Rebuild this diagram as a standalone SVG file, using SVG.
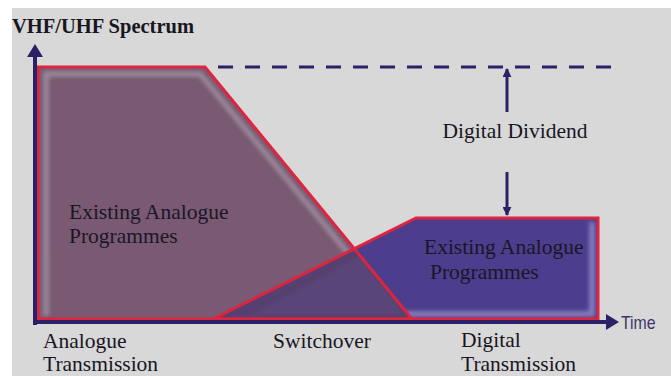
<svg xmlns="http://www.w3.org/2000/svg" width="671" height="376" viewBox="0 0 671 376">
  <defs>
    <style>
      .lbl { font-family: "Liberation Serif", "Times New Roman", serif; font-size: 21.5px; fill: #18161e; }
      .inner { font-family: "Liberation Serif", "Times New Roman", serif; font-size: 21.5px; fill: #1a1628; }
      .axis { stroke: #2b2166; stroke-width: 4; fill: none; }
      .edge { stroke: #dd2540; stroke-width: 3; fill: none; stroke-linejoin: miter; }
      .dd { stroke: #2b2166; stroke-width: 3; fill: none; }
    </style>
    <filter id="soft" x="-10%" y="-10%" width="120%" height="120%">
      <feGaussianBlur stdDeviation="2.2"/>
    </filter>
    <clipPath id="clipAnalogue">
      <polygon points="38,67 205,67 412,319 38,319"/>
    </clipPath>
    <clipPath id="clipDigital">
      <polygon points="213,319 416,218 598,218 598,319"/>
    </clipPath>
    <marker id="headSmall" viewBox="0 0 10 10" refX="9" refY="5" markerWidth="3" markerHeight="3" orient="auto">
      <path d="M0,0 L10,5 L0,10 Z" fill="#2b2166"/>
    </marker>
  </defs>

  <!-- page -->
  <rect x="0" y="0" width="671" height="376" fill="#ffffff"/>
  <rect x="12" y="8" width="659" height="368" fill="#d8d8d9"/>

  <!-- digital band -->
  <g id="digital">
    <polygon points="213,319 416,218 598,218 598,319" fill="#4c3e8c"/>
    <g clip-path="url(#clipDigital)">
      <polyline points="592,222 592,314 230,314" stroke="#8f86c2" stroke-width="5" fill="none" filter="url(#soft)"/>
      <line x1="420" y1="224" x2="592" y2="224" stroke="#6a5ea8" stroke-width="4" filter="url(#soft)"/>
    </g>
  </g>

  <!-- analogue band -->
  <g id="analogue">
    <polygon points="38,67 205,67 412,319 38,319" fill="#795a72"/>
    <g clip-path="url(#clipAnalogue)">
      <polyline points="46,316 46,74 200,74 400,316" stroke="#a596a6" stroke-width="5" fill="none" filter="url(#soft)" opacity="0.85"/>
    </g>
    <!-- overlap of the two bands -->
    <polygon points="213,319 355,249 412,319" fill="#56406f"/>
    <polygon points="360,256 395,300 405,316 250,316" fill="#5e4c82" opacity="0.5" filter="url(#soft)"/>
  </g>

  <!-- outlines -->
  <g id="outlines">
    <polygon class="edge" points="38,67 205,67 412,319 38,319"/>
    <polygon class="edge" points="213,319 416,218 598,218 598,319"/>
  </g>

  <!-- axes and dividend markers -->
  <g id="connectors">
    <line class="axis" x1="35" y1="325" x2="35" y2="54"/>
    <polygon points="35,44 27,57 43,57" fill="#2b2166"/>
    <line class="axis" x1="33" y1="322" x2="608" y2="322"/>
    <polygon points="619,322 606,314 606,330" fill="#2b2166"/>
    <line class="dd" x1="218" y1="67" x2="620" y2="67" stroke-width="4" stroke-dasharray="15 12"/>
    <line class="dd" x1="507" y1="112" x2="507" y2="69" marker-end="url(#headSmall)"/>
    <line class="dd" x1="507" y1="172" x2="507" y2="215" marker-end="url(#headSmall)"/>
  </g>

  <!-- labels -->
  <g id="title">
    <text x="12" y="33" class="lbl" style="font-weight:bold; font-size:20.5px">VHF/UHF Spectrum</text>
  </g>
  <g id="dividend">
    <text x="515" y="138" class="lbl" text-anchor="middle">Digital Dividend</text>
  </g>
  <g id="analogue-text">
    <text x="69" y="219" class="inner">Existing Analogue</text>
    <text x="69" y="243" class="inner">Programmes</text>
  </g>
  <g id="digital-text">
    <text x="424" y="254" class="inner">Existing Analogue</text>
    <text x="430" y="279" class="inner">Programmes</text>
  </g>
  <g id="phase-analogue">
    <text x="43" y="348" class="lbl">Analogue</text>
    <text x="43" y="371" class="lbl">Transmission</text>
  </g>
  <g id="phase-switchover">
    <text x="273" y="348" class="lbl">Switchover</text>
  </g>
  <g id="phase-digital">
    <text x="461" y="347" class="lbl">Digital</text>
    <text x="461" y="371" class="lbl">Transmission</text>
  </g>
  <g id="time-label">
    <text x="621" y="329" style="font-family:'Liberation Sans', Arial, sans-serif; font-size:18px; fill:#3b3566" transform="translate(621 0) scale(0.88 1) translate(-621 0)">Time</text>
  </g>
</svg>
